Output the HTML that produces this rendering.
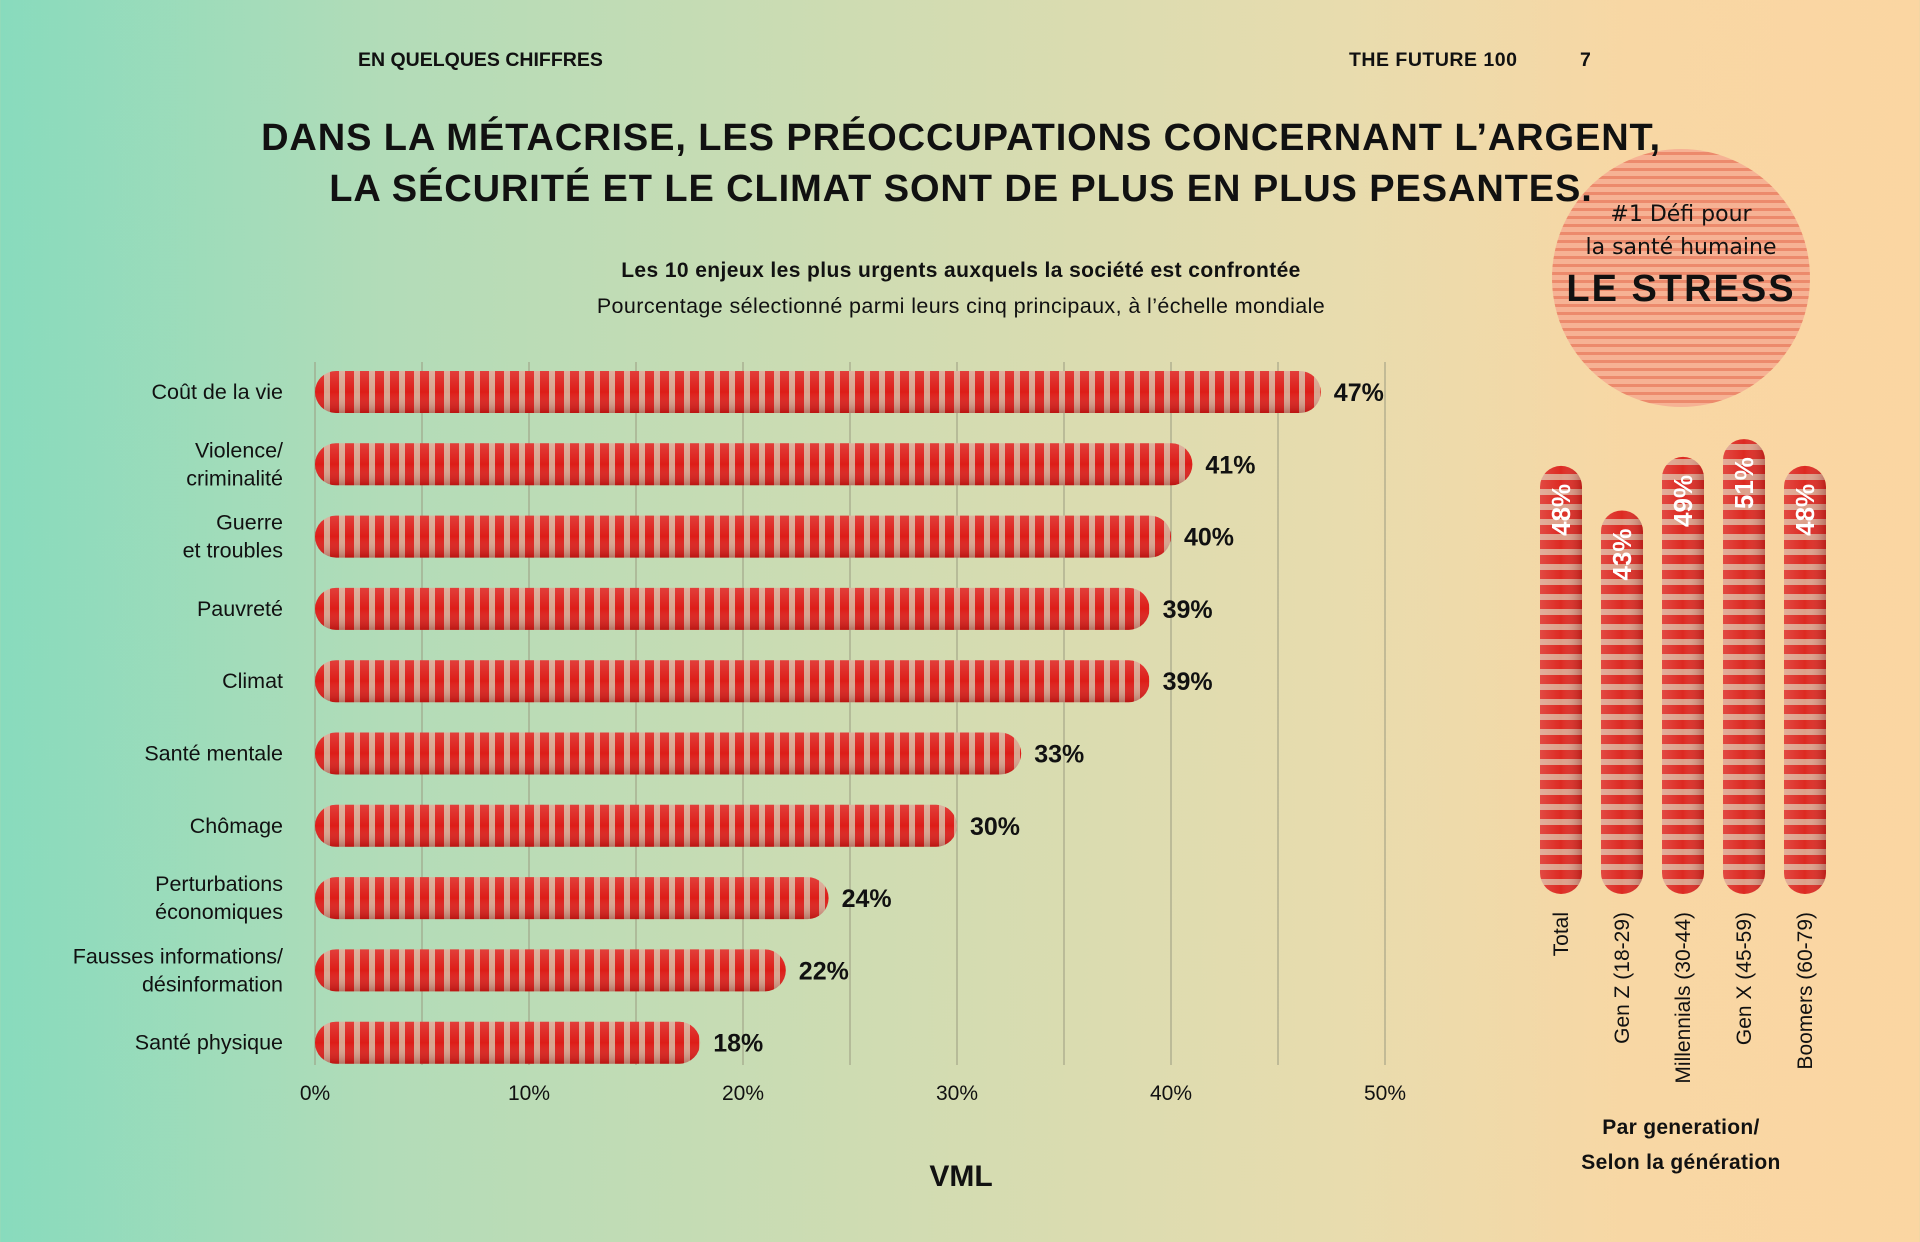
<!DOCTYPE html>
<html><head><meta charset="utf-8">
<style>
html,body{margin:0;padding:0}
body{width:1920px;height:1242px;overflow:hidden;position:relative;font-family:"Liberation Sans",sans-serif;color:#111;
background:linear-gradient(90deg,#88dbbd 0%,#b2dcb8 20%,#cfdcb2 45%,#e8dcae 70%,#f8d7a4 85%,#fbd6a2 100%);}
.t{position:absolute;white-space:nowrap}
</style></head><body>
<div class="t" style="left:358px;top:49px;font-size:19.5px;font-weight:bold">EN QUELQUES CHIFFRES</div>
<div class="t" style="left:1349px;top:49px;font-size:19.5px;font-weight:bold;letter-spacing:0.5px">THE FUTURE 100</div>
<div class="t" style="left:1580px;top:49px;font-size:19.5px;font-weight:bold">7</div>

<svg id="chart" width="1920" height="1242" style="position:absolute;left:0;top:0">
<defs>
<pattern id="stripes" width="15" height="20" patternUnits="userSpaceOnUse">
<rect width="15" height="20" fill="#d8a48e"/><rect x="0" width="9" height="20" fill="#dd1d18"/>
</pattern>
<pattern id="vstripes" width="20" height="15" patternUnits="userSpaceOnUse">
<rect width="20" height="15" fill="#dda08a"/><rect y="0" width="20" height="9" fill="#dd2a22"/>
</pattern>
<linearGradient id="shadeH" x1="0" y1="0" x2="0" y2="1">
<stop offset="0" stop-color="#fff" stop-opacity="0.15"/><stop offset="0.5" stop-color="#fff" stop-opacity="0"/><stop offset="1" stop-color="#600" stop-opacity="0.3"/>
</linearGradient>
<linearGradient id="shadeV" x1="0" y1="0" x2="1" y2="0">
<stop offset="0" stop-color="#fff" stop-opacity="0.15"/><stop offset="0.5" stop-color="#fff" stop-opacity="0"/><stop offset="1" stop-color="#600" stop-opacity="0.3"/>
</linearGradient>
<pattern id="rings" width="10" height="8" patternUnits="userSpaceOnUse">
<rect width="10" height="8" fill="#f6b294"/><rect width="10" height="3" fill="#ec8a6c"/>
</pattern>
</defs>
<circle cx="1681" cy="278" r="129" fill="url(#rings)"/>
<g id="grid"></g><g id="bars"></g><g id="vbars"></g>
</svg>

<div class="t" style="left:0;width:1922px;top:113px;text-align:center;font-size:38px;font-weight:bold;line-height:51px;letter-spacing:0.9px;z-index:2">DANS LA MÉTACRISE, LES PRÉOCCUPATIONS CONCERNANT L’ARGENT,<br>LA SÉCURITÉ ET LE CLIMAT SONT DE PLUS EN PLUS PESANTES.</div>
<div class="t" style="left:0;width:1922px;top:259px;text-align:center;font-size:21px;font-weight:bold;letter-spacing:0.4px">Les 10 enjeux les plus urgents auxquels la société est confrontée</div>
<div class="t" style="left:0;width:1922px;top:294px;text-align:center;font-size:21.5px;letter-spacing:0.4px">Pourcentage sélectionné parmi leurs cinq principaux, à l’échelle mondiale</div>

<div class="t" style="left:1531px;width:300px;top:198px;text-align:center;font-size:22px;line-height:33px;font-family:'DejaVu Sans',sans-serif">#1 Défi pour<br>la santé humaine</div>
<div class="t" style="left:1531px;width:300px;top:268px;text-align:center;font-size:38px;font-weight:bold;letter-spacing:2px">LE STRESS</div>
<div class="t" style="left:1531px;width:300px;top:1110px;text-align:center;font-size:21px;font-weight:bold;line-height:35px;letter-spacing:0.3px">Par generation/<br>Selon la génération</div>
<div class="t" style="left:0;width:1922px;top:1160px;text-align:center;font-size:30px;font-weight:900">VML</div>

<script>
const categories=["Coût de la vie","Violence/\ncriminalité","Guerre\net troubles","Pauvreté","Climat","Santé mentale","Chômage","Perturbations\néconomiques","Fausses informations/\ndésinformation","Santé physique"];
const values=[47,41,40,39,39,33,30,24,22,18];
const ticks=[0,10,20,30,40,50];
const genLabels=["Total","Gen Z (18-29)","Millennials (30-44)","Gen X (45-59)","Boomers (60-79)"];
const genValues=[48,43,49,51,48];
const NS="http://www.w3.org/2000/svg";
const x0=315,pxPer=21.4,y0=392,rowH=72.3,bh=42;
const xs=v=>x0+v*pxPer, ys=i=>y0+i*rowH;
function mk(t,a){const e=document.createElementNS(NS,t);for(const k in a)e.setAttribute(k,a[k]);return e;}
const grid=document.getElementById('grid'),bars=document.getElementById('bars'),vb=document.getElementById('vbars');
for(let g=0;g<=50;g+=5){
 const l=mk('line',{x1:xs(g),x2:xs(g),y1:362,y2:1065,stroke:'#9a9a80','stroke-width':1});
 
 
 grid.appendChild(l);
}
ticks.forEach(t=>{
 const e=mk('text',{x:xs(t),y:1100,'text-anchor':'middle','font-size':21,fill:'#111'});
 e.textContent=t+'%';
 
 
 grid.appendChild(e);
});
values.forEach((v,i)=>{
 const cy=ys(i),w=xs(v)-x0;
 const r=mk('rect',{x:x0,y:cy-bh/2,width:w,height:bh,rx:bh/2,fill:'url(#stripes)'});
 
 
 bars.appendChild(r);
 bars.appendChild(mk('rect',{x:x0,y:cy-bh/2,width:w,height:bh,rx:bh/2,fill:'url(#shadeH)'}));
 const vl=mk('text',{x:xs(v)+13,y:cy+9,'font-size':25,'font-weight':'bold',fill:'#111'});
 vl.textContent=v+'%';
 
 
 bars.appendChild(vl);
 const lines=categories[i].split('\n');
 const cl=mk('text',{x:283,'text-anchor':'end','font-size':21.5,fill:'#111'});
 
 
 lines.forEach((s,j)=>{const ts=mk('tspan',{x:283,y:cy+7+(j-(lines.length-1)/2)*28});ts.textContent=s;cl.appendChild(ts);});
 bars.appendChild(cl);
});
const vBase=894,vPer=8.92,vw=42;
const gx=i=>1561+i*61;
genValues.forEach((v,i)=>{
 const h=v*vPer,cx=gx(i);
 const r=mk('rect',{x:cx-vw/2,y:vBase-h,width:vw,height:h,rx:vw/2,fill:'url(#vstripes)'});
 
 
 vb.appendChild(r);
 vb.appendChild(mk('rect',{x:cx-vw/2,y:vBase-h,width:vw,height:h,rx:vw/2,fill:'url(#shadeV)'}));
 const t=mk('text',{x:0,y:0,'font-size':26,'font-weight':'bold',fill:'#fff','text-anchor':'end',transform:`translate(${cx+9},${vBase-h+18}) rotate(-90)`});
 t.textContent=v+'%';
 
 
 vb.appendChild(t);
 const l=mk('text',{x:0,y:0,'font-size':21,fill:'#111','text-anchor':'end',transform:`translate(${cx+7},912) rotate(-90)`});
 l.textContent=genLabels[i];
 
 
 vb.appendChild(l);
});
</script>
</body></html>
